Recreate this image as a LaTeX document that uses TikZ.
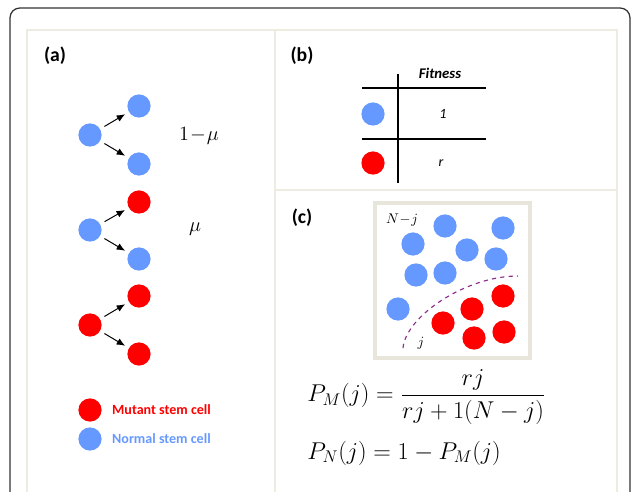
\documentclass[tikz,border=0pt]{standalone}
\usepackage{amsmath}
\usepackage{fontspec}
\setsansfont{Carlito}
\usetikzlibrary{arrows.meta,positioning}

\definecolor{cellblue}{HTML}{6699FF}
\definecolor{cellred}{HTML}{FF0000}
\definecolor{panelline}{HTML}{EEEBE1}
\definecolor{boxline}{HTML}{E8E5DB}
\definecolor{splitline}{HTML}{8E2C8E}

\begin{document}
\begin{tikzpicture}[
    x=0.025cm, y=-0.025cm,
    normal/.style={circle, fill=cellblue, minimum size=0.58cm, inner sep=0pt},
    mutant/.style={circle, fill=cellred, minimum size=0.58cm, inner sep=0pt},
    panellabel/.style={font=\sffamily\bfseries\fontsize{14}{16}\selectfont},
    legtext/.style={font=\sffamily\bfseries\fontsize{10}{12}\selectfont, inner sep=0pt},
    divide/.style={-{Latex[length=6pt,width=5pt]}, line width=0.7pt, shorten <=3.5pt, shorten >=3pt},
    rate/.style={font=\fontsize{15}{17}\selectfont},
    fitlabel/.style={font=\sffamily\itshape\fontsize{10}{12}\selectfont},
    formula/.style={font=\fontsize{18}{21}\selectfont, anchor=west, inner sep=0pt}
]
\useasboundingbox (0,0) rectangle (632,492);

% frame and panels
\draw[draw=black!80, line width=0.9pt, rounded corners=7pt] (10,495) -- (10,8) -- (630,8) -- (630,495);
\draw[panelline, line width=1.1pt] (27,492) -- (27,30) -- (617,30) -- (617,492);
\draw[panelline, line width=1.1pt] (275,30) -- (275,492);
\draw[panelline, line width=1.1pt] (275,190) -- (617,190);

% (a) divisions
\node[panellabel] (la) at (55,56) {(a)};

\node[normal] (p1) at (90,135) {};
\node[normal] (p1u) at (139,106) {};
\node[normal] (p1d) at (139,164) {};
\draw[divide] (p1) -- (p1u);
\draw[divide] (p1) -- (p1d);
\node[rate] (r1) at (199,136) {$1\!-\!\mu$};

\node[normal] (p2) at (90,230) {};
\node[mutant] (p2u) at (139,202) {};
\node[normal] (p2d) at (139,259) {};
\draw[divide] (p2) -- (p2u);
\draw[divide] (p2) -- (p2d);
\node[rate] (r2) at (195,229) {$\mu$};

\node[mutant] (p3) at (90,325) {};
\node[mutant] (p3u) at (139,296) {};
\node[mutant] (p3d) at (139,354) {};
\draw[divide] (p3) -- (p3u);
\draw[divide] (p3) -- (p3d);

% legend
\node[mutant] (legM) at (90,410) {};
\node[normal] (legN) at (90,439) {};
\node[legtext, text=cellred, right=0.25cm of legM] (legMtext) {Mutant stem cell};
\node[legtext, text=cellblue, right=0.25cm of legN] (legNtext) {Normal stem cell};

% (b) fitness table
\node[panellabel] (lb) at (302,56) {(b)};
\draw[line width=0.8pt] (398,74) -- (398,183);
\draw[line width=0.8pt] (362,88) -- (486,88);
\draw[line width=0.8pt] (362,139) -- (486,139);
\node[fitlabel, font=\sffamily\bfseries\itshape\fontsize{10.5}{12}\selectfont] (fit) at (440,73) {Fitness};
\node[normal] (fitN) at (373,114) {};
\node[mutant] (fitM) at (373,163) {};
\node[fitlabel] (fit1) at (443,114) {1};
\node[fitlabel] (fitr) at (441,163) {r};

% (c) population
\node[panellabel] (lc) at (302,218) {(c)};
\draw[boxline, line width=3pt, fill=white] (375,203) rectangle (530,358);

\node[normal] (n1) at (445,226) {};
\node[normal] (n2) at (413,244) {};
\node[normal] (n3) at (467,250) {};
\node[normal] (n4) at (503,228) {};
\node[normal] (n5) at (496,259) {};
\node[normal] (n6) at (416,275) {};
\node[normal] (n7) at (445,273) {};
\node[normal] (n8) at (398,309) {};
\node[mutant] (m1) at (503,296) {};
\node[mutant] (m2) at (472,309) {};
\node[mutant] (m3) at (443,323) {};
\node[mutant] (m4) at (474,338) {};
\node[mutant] (m5) at (504,332) {};

\node[font=\fontsize{10}{12}\selectfont] (nj) at (402,220) {$N\!-\!j$};
\node[font=\fontsize{10}{12}\selectfont] (jj) at (421,343) {$j$};
\draw[splitline, dashed, line width=0.8pt] (403,348) .. controls (406,316) and (466,276) .. (518,276);

% probabilities
\node[formula] (pm) at (307,397) {$P_M(j) = \dfrac{rj}{rj + 1(N-j)}$};
\node[formula] (pn) at (307,453) {$P_N(j) = 1 - P_M(j)$};
\end{tikzpicture}
\end{document}
